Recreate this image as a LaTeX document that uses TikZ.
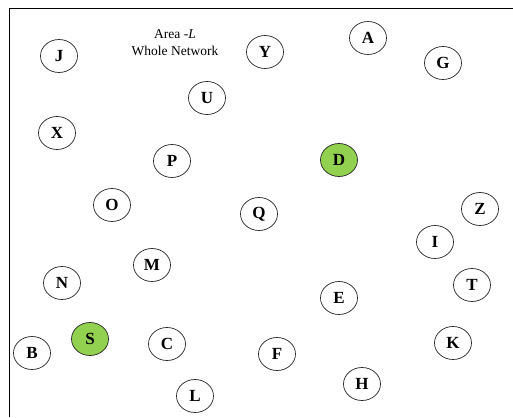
\documentclass[tikz,border=0pt]{standalone}
\usepackage{fontspec}
\setmainfont{Liberation Serif}
\usetikzlibrary{shapes.geometric}
\definecolor{nodegreen}{HTML}{92D050}
\tikzset{
  nd/.style={ellipse, draw=black!85, line width=0.7pt, minimum width=37pt, minimum height=33pt, inner sep=0pt,
    font=\fontsize{17}{20}\selectfont\bfseries, fill=white},
  gn/.style={nd, fill=nodegreen},
  lbl/.style={font=\fontsize{13.5}{17}\selectfont, align=center}
}
\begin{document}
\begin{tikzpicture}[x=1pt,y=-1pt]
\useasboundingbox (0,0) rectangle (513,417);
\coordinate (fa) at (9.5,417);
\coordinate (fb) at (9.5,8.5);
\coordinate (fc) at (513,8.5);
\draw[line width=1.5pt] (fa) -- (fb) -- (fc);
\node[lbl] (title) at (175,43) {Area -\textit{L}\\Whole Network};
\node[nd] (J) at (59,56) {J};
\node[nd] (Y) at (265,52) {Y};
\node[nd] (A) at (368,38) {A};
\node[nd] (G) at (443,63) {G};
\node[nd] (U) at (207,98) {U};
\node[nd] (X) at (57,133) {X};
\node[nd] (P) at (172,161) {P};
\node[gn] (D) at (339,160) {D};
\node[nd] (O) at (112,205) {O};
\node[nd] (Q) at (259,214) {Q};
\node[nd] (Z) at (480,209) {Z};
\node[nd] (I) at (435,242) {I};
\node[nd] (M) at (152,265) {M};
\node[nd] (N) at (62,283) {N};
\node[nd] (T) at (472,285) {T};
\node[nd] (E) at (339,298) {E};
\node[gn] (S) at (90,339) {S};
\node[nd] (K) at (453,343) {K};
\node[nd] (C) at (167,344) {C};
\node[nd] (B) at (32,353) {B};
\node[nd] (F) at (277,354) {F};
\node[nd] (H) at (362,384) {H};
\node[nd] (L) at (195,396) {L};
\end{tikzpicture}
\end{document}
